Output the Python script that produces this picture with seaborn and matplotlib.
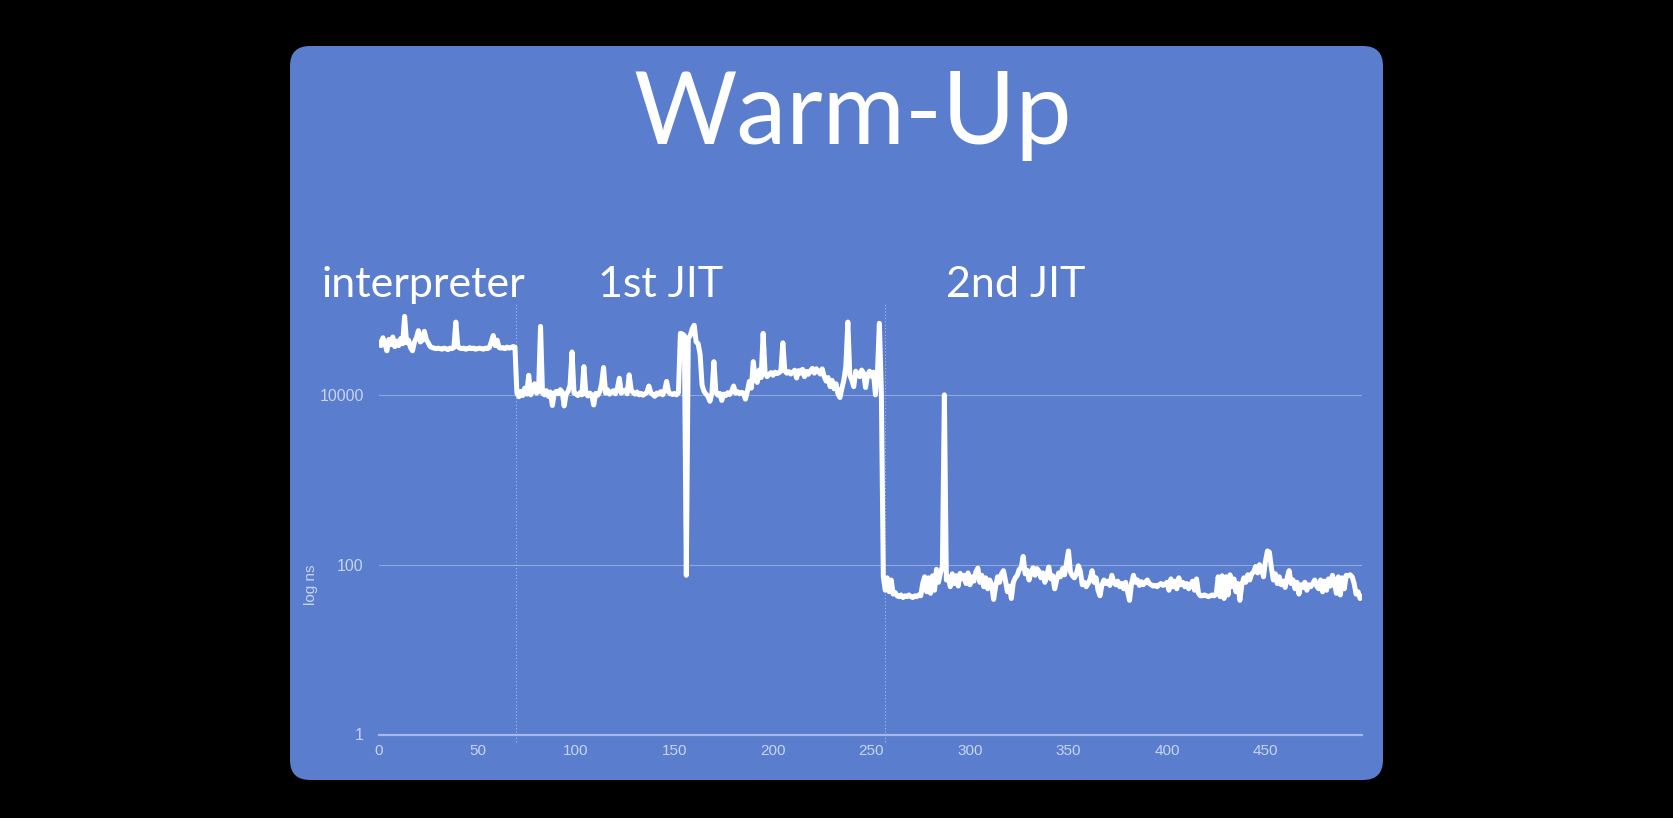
import pandas as pd
import seaborn as sns
import matplotlib.pyplot as plt
from matplotlib.patches import FancyBboxPatch
from matplotlib.ticker import NullLocator
from matplotlib.transforms import IdentityTransform

# Tiempos por iteración (ns), separados por fase
interp_ns = [42000, 38000, 47000, 40000, 33000, 45000, 39000, 48000, 37000, 43000,
             38000, 46000, 40000, 84000, 41000, 44000, 36000, 33000, 42000, 47000,
             57000, 42000, 44000, 56000, 45000, 41000, 37000, 36000, 35500, 35000,
             35500, 35000, 34500, 35500, 35000, 34000, 35500, 35000, 36000, 72000,
             37000, 35500, 35000, 35500, 34500, 35000, 36000, 35000, 35500, 34500,
             35000, 35500, 35000, 34500, 35500, 35000, 36000, 42000, 50000, 38000,
             44000, 36000, 35500, 36000, 35000, 36500, 35500, 36000, 37000, 36500]

jit1_ns = [10500, 9500, 11000, 9800, 12000, 10200, 17000, 10000, 11500, 13500,
           10500, 11000, 64000, 10500, 10000, 11200, 9600, 10800, 7500, 10500,
           11000, 10300, 11500, 10800, 7400, 10200, 11000, 13000, 32000, 10500,
           10200, 9800, 10600, 10000, 21500, 10300, 9700, 10500, 10000, 7600,
           10400, 9900, 10800, 13500, 21000, 10500, 11500, 10200, 10800, 11200,
           10300, 11800, 15700, 10500, 10900, 11400, 10300, 17200, 11500, 10600,
           10200, 10800, 10000, 10400, 9900, 10300, 10700, 12700, 10600, 10100,
           9600, 10500, 10200, 10900, 10000, 11200, 14400, 10800, 10300, 10100,
           10400, 10000, 10600, 53000, 52000, 50000, 75, 46000, 50000, 60000,
           66000, 42000, 40000, 30000, 13000, 11000, 10200, 9600, 8400, 10500,
           24600, 10800, 9900, 10400, 8600, 10200, 9800, 10600, 10100, 11000,
           12700, 10500, 10900, 10300, 10700, 10500, 8900, 11000, 14400, 12000,
           24600, 15000, 14000, 19600, 16000, 53000, 18000, 16400, 17500, 18300,
           17000, 18500, 17800, 18200, 19000, 41000, 19200, 18000, 18800, 17600,
           18400, 19500, 15800, 19300, 18000, 20000, 16400, 18900, 17500, 19200,
           20500, 18000, 20300, 19000, 17600, 20200, 16400, 14500, 16000, 12500,
           14800, 11800, 13500, 10200, 9300, 12000, 15000, 22000, 72000, 17000,
           15000, 12500, 19000, 17500, 16400, 19600, 18000, 12200, 17000, 19000,
           16500, 18500, 10000, 17500, 69600, 11000]

jit2_ns = [72, 50, 70, 48, 66, 45, 47, 43, 42, 44,
           41, 43, 42, 44, 42, 41, 43, 42, 44, 43,
           60, 72, 48, 70, 46, 74, 50, 88, 62, 80,
           95, 10000, 66, 72, 55, 78, 60, 74, 56, 79,
           68, 75, 60, 80, 58, 72, 64, 82, 91, 62,
           75, 55, 70, 52, 66, 58, 39, 55, 72, 62,
           78, 85, 65, 48, 56, 40, 62, 70, 75, 88,
           92, 125, 78, 86, 66, 82, 92, 75, 90, 84,
           70, 80, 62, 75, 94, 68, 74, 52, 66, 80,
           72, 90, 76, 105, 145, 82, 74, 70, 78, 97,
           84, 58, 62, 55, 60, 68, 85, 62, 70, 50,
           43, 58, 66, 60, 64, 57, 75, 62, 58, 64,
           55, 60, 52, 62, 48, 38, 60, 75, 62, 66,
           57, 63, 58, 62, 66, 60, 58, 56, 57, 55,
           58, 60, 57, 59, 62, 50, 68, 55, 64, 52,
           70, 58, 62, 55, 60, 52, 58, 64, 50, 68,
           46, 43, 43, 44, 43, 42, 43, 44, 43, 45,
           72, 42, 74, 40, 72, 44, 76, 55, 68, 48,
           60, 38, 58, 70, 62, 76, 66, 78, 82, 95,
           80, 100, 88, 72, 110, 145, 140, 92, 66, 78,
           60, 72, 58, 64, 54, 70, 85, 60, 66, 52,
           62, 45, 58, 54, 62, 50, 58, 55, 60, 66,
           56, 52, 66, 48, 64, 50, 68, 56, 75, 62,
           46, 72, 44, 70, 52, 75, 74, 76, 72, 60,
           45, 48, 40, 42]

phase_names = ["interpreter", "1st JIT", "2nd JIT"]
phase_breaks = [69.3, 257]
y_ticks = [1, 100, 10000]
x_ticks = [0, 50, 100, 150, 200, 250, 300, 350, 400, 450]

ns = interp_ns + jit1_ns + jit2_ns
df = pd.DataFrame({"iteracion": range(len(ns)), "ns": ns})

sns.set_style("white")
plt.rcParams["font.family"] = ["Liberation Sans", "DejaVu Sans"]

W, H = 1674, 818
fig = plt.figure(figsize=(W / 100, H / 100), dpi=100, facecolor="black")

# panel azul redondeado (coordenadas en pixeles)
panel = FancyBboxPatch((290, H - 780), 1383 - 290, 780 - 46,
                       boxstyle="round,pad=0,rounding_size=20",
                       transform=IdentityTransform(), facecolor="#5a7dcd",
                       edgecolor="none", zorder=0)
fig.add_artist(panel)

ax = fig.add_axes([379 / W, 1 - 734.5 / H, 983 / W, 430.5 / H])
ax.set_facecolor("none")

sns.lineplot(data=df, x="iteracion", y="ns", ax=ax, color="white", lw=3.6, zorder=3)

ax.set_yscale("log")
ax.set_ylim(1, 10 ** 5.07)
ax.set_xlim(0, 499)
ax.yaxis.set_minor_locator(NullLocator())
ax.set_yticks(y_ticks, labels=[str(t) for t in y_ticks])
ax.set_xticks(x_ticks, labels=[str(t) for t in x_ticks])
ax.tick_params(axis="both", length=0, labelcolor="#c8d4f2", labelsize=11)
ax.tick_params(axis="y", labelsize=11.5, pad=11)
ax.tick_params(axis="x", pad=7)

ax.grid(axis="y", color="#90a7df", lw=0.8)
ax.grid(axis="x", visible=False)
for s in ["top", "right", "left"]:
    ax.spines[s].set_visible(False)
ax.spines["bottom"].set_color("#a6b8e8")
ax.spines["bottom"].set_linewidth(1.6)

for b in phase_breaks:
    ax.axvline(b, ymin=-0.018, ymax=1, color="#a9bbea", lw=0.8,
               ls=(0, (1, 2)), clip_on=False, zorder=1)

ax.set_xlabel("")
ax.set_ylabel("log ns", color="#c8d4f2", fontsize=11)
ax.yaxis.set_label_coords(-0.062, 0.347)

# titulo y nombres de las fases
fig.text(853 / W, 1 - 144 / H, "Warm-Up", fontsize=72, color="white",
         family=["Lato", "DejaVu Sans"], ha="center", va="baseline")
for name, xp in zip(phase_names, [322, 598, 946]):
    fig.text(xp / W, 1 - 297 / H, name, fontsize=31, color="white",
             family=["Lato", "DejaVu Sans"], ha="left", va="baseline")

plt.savefig("out.png", dpi=100, facecolor="black")
